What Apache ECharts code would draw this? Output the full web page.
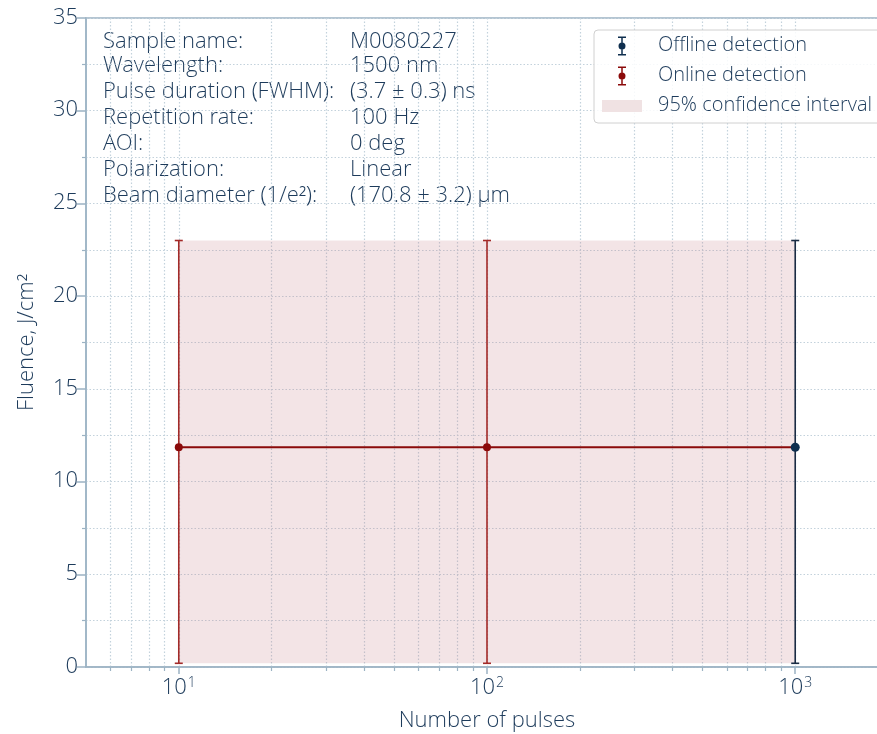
<!DOCTYPE html>
<html>
<head>
<meta charset="utf-8">
<script src="https://cdn.jsdelivr.net/npm/echarts@6/dist/echarts.min.js"></script>
<style>
html,body{margin:0;padding:0;background:#fff;}
#chart{width:877px;height:734px;}
</style>
</head>
<body>
<div id="chart"></div>
<script>
// ---- data ----
const onlinePulses = [10, 100, 1000];
const onlineFluence = [11.85, 11.85, 11.85];
const onlineLow = [0.2, 0.2];
const onlineHigh = [23.0, 23.0];
const offlinePulses = [1000];
const offlineFluence = [11.85];
const offlineLow = [0.2];
const offlineHigh = [23.0];
const ciPulses = [10, 1000];
const ciLow = 0.2;
const ciHigh = 23.0;
const xMajorTicks = [10, 100, 1000];
const xMinorTicks = [6, 7, 8, 9, 20, 30, 40, 50, 60, 70, 80, 90, 200, 300, 400, 500, 600, 700, 800, 900];
const infoLabels = ['Sample name:', 'Wavelength:', 'Pulse duration (FWHM):', 'Repetition rate:', 'AOI:', 'Polarization:', 'Beam diameter (1/e\u00B2):'];
const infoValues = ['M0080227', '1500 nm', '(3.7 \u00B1 0.3) ns', '100 Hz', '0 deg', 'Linear', '(170.8 \u00B1 3.2) \u00B5m'];

const FONT = '"Open Sans Light", "Open Sans", sans-serif';
const TXT = '#1d3b5b';
const AX = '#9cb3c4';
const GRIDC = '#c3d2dc';
const RED = '#8b0a0a';
const REDBAR = '#a32a28';
const NAVY = '#0f2f4f';

const chart = echarts.init(document.getElementById('chart'), null, {renderer: 'canvas'});

function errRender(lows, highs, xs, color) {
  return function (params, api) {
    const i = params.dataIndex;
    const top = api.coord([xs[i], highs[i]]);
    const bot = api.coord([xs[i], lows[i]]);
    const cw = 4;
    const st = {stroke: color, lineWidth: 1.6};
    return {
      type: 'group',
      children: [
        {type: 'line', shape: {x1: top[0], y1: top[1], x2: bot[0], y2: bot[1]}, style: st},
        {type: 'line', shape: {x1: top[0] - cw, y1: top[1], x2: top[0] + cw, y2: top[1]}, style: st},
        {type: 'line', shape: {x1: bot[0] - cw, y1: bot[1], x2: bot[0] + cw, y2: bot[1]}, style: st}
      ]
    };
  };
}

const ebIcon = 'path://M0,0M40,20M16,0.5H24V2H16Z M19.25,1H20.75V19H19.25Z M16,18H24V19.5H16Z M20,6.5A3.5,3.5 0 1 1 20,13.5A3.5,3.5 0 1 1 20,6.5Z';
const ciIcon = 'path://M0,0M40,20M0,4H40V16H0Z';

const graphics = [];
const rowY = [42.5, 66.5, 92, 118.5, 144, 170.5, 196.5];
infoLabels.forEach((t, i) => {
  graphics.push({type: 'text', x: 103, y: rowY[i], silent: true,
    style: {text: t, fill: TXT, font: '300 22px ' + FONT, verticalAlign: 'middle'}});
  graphics.push({type: 'text', x: 350, y: rowY[i], silent: true,
    style: {text: infoValues[i], fill: TXT, font: '300 22px ' + FONT, verticalAlign: 'middle'}});
});

const option = {
  animation: false,
  backgroundColor: '#ffffff',
  textStyle: {fontFamily: FONT},
  grid: {left: 86, width: 802, top: 18, height: 649, outerBoundsMode: 'none', containLabel: false,
    show: true, borderColor: AX, borderWidth: 1.5, backgroundColor: 'transparent'},
  legend: {
    left: 594, top: 30, orient: 'vertical',
    itemWidth: 40, itemHeight: 20, itemGap: 10,
    padding: [6, 24, 7, 8],
    borderColor: '#d0d0d0', borderWidth: 1, borderRadius: 4,
    backgroundColor: 'rgba(255,255,255,0.85)',
    textStyle: {color: TXT, fontSize: 20, fontWeight: 300, fontFamily: FONT, lineHeight: 20, padding: [0, 0, 0, 11]},
    data: [
      {name: 'Offline detection', icon: ebIcon, itemStyle: {color: NAVY}},
      {name: 'Online detection', icon: ebIcon, itemStyle: {color: RED}},
      {name: '95% confidence interval', icon: ciIcon, itemStyle: {color: '#f0e2e3'}}
    ]
  },
  xAxis: [
    {
      type: 'log', logBase: 10, min: 5, max: 2000,
      position: 'bottom',
      name: 'Number of pulses', nameLocation: 'middle', nameGap: 43,
      nameTextStyle: {color: TXT, fontSize: 22, fontWeight: 300, fontFamily: FONT},
      axisLine: {show: true, lineStyle: {color: AX, width: 1.5}},
      axisTick: {show: true, inside: false, length: 7, lineStyle: {color: AX, width: 1.5}, customValues: xMajorTicks},
      axisLabel: {
        color: TXT, margin: 9, customValues: xMajorTicks,
        formatter: v => '{b|10}{s|' + Math.round(Math.log10(v)) + '}',
        rich: {b: {fontSize: 22, fontWeight: 300, color: TXT, fontFamily: FONT}, s: {fontSize: 14, fontWeight: 300, color: TXT, fontFamily: FONT, verticalAlign: 'top', padding: [0, 0, 10, 1]}}
      },
      splitLine: {show: true, lineStyle: {color: GRIDC, width: 1.2, type: [1.5, 2]}}
    },
    {
      type: 'log', logBase: 10, min: 5, max: 2000,
      position: 'bottom',
      axisLine: {show: false},
      axisTick: {show: true, inside: false, length: 4, lineStyle: {color: AX, width: 1.2}, customValues: xMinorTicks},
      axisLabel: {show: false, customValues: xMinorTicks},
      splitLine: {show: true, lineStyle: {color: GRIDC, width: 1.2, type: [1.5, 2]}}
    }
  ],
  yAxis: {
    type: 'value', min: 0, max: 35, interval: 5,
    name: 'Fluence, J/cm\u00B2', nameLocation: 'middle', nameGap: 48,
    nameTextStyle: {color: TXT, fontSize: 22, fontWeight: 300, fontFamily: FONT},
    axisLine: {show: true, lineStyle: {color: AX, width: 1.5}},
    axisTick: {show: true, inside: false, length: 9, lineStyle: {color: AX, width: 1.5}},
    minorTick: {show: true, splitNumber: 2, length: 4, lineStyle: {color: AX, width: 1.2}},
    axisLabel: {color: TXT, fontSize: 22, fontWeight: 300, fontFamily: FONT, margin: 8},
    splitLine: {show: true, lineStyle: {color: GRIDC, width: 1.2, type: [1.5, 2]}},
    minorSplitLine: {show: true, lineStyle: {color: GRIDC, width: 1.2, type: [1.5, 2]}}
  },
  series: [
    {
      name: '95% confidence interval', type: 'custom', xAxisIndex: 0, z: 1,
      itemStyle: {color: '#f0e2e3'},
      data: [[ciPulses[0], ciLow, ciPulses[1], ciHigh]],
      renderItem: function (params, api) {
        const p0 = api.coord([ciPulses[0], ciHigh]);
        const p1 = api.coord([ciPulses[1], ciLow]);
        return {type: 'rect', shape: {x: p0[0], y: p0[1], width: p1[0] - p0[0], height: p1[1] - p0[1]},
          style: {fill: 'rgba(196,120,128,0.2)'}};
      },
      silent: true
    },
    {
      name: 'Online detection', type: 'line', xAxisIndex: 0, z: 3,
      data: onlinePulses.map((x, i) => [x, onlineFluence[i]]),
      symbol: 'none',
      lineStyle: {color: RED, width: 2},
      itemStyle: {color: RED}
    },
    {
      name: 'Online detection', type: 'custom', xAxisIndex: 0, z: 4,
      itemStyle: {color: RED},
      data: onlineLow.map((l, i) => [onlinePulses[i], l, onlineHigh[i]]),
      renderItem: errRender(onlineLow, onlineHigh, onlinePulses, REDBAR)
    },
    {
      name: 'Online detection', type: 'scatter', xAxisIndex: 0, z: 5,
      data: onlineLow.map((l, i) => [onlinePulses[i], onlineFluence[i]]),
      symbol: 'circle', symbolSize: 8,
      itemStyle: {color: RED, opacity: 1}
    },
    {
      name: 'Offline detection', type: 'custom', xAxisIndex: 0, z: 6,
      itemStyle: {color: NAVY},
      data: offlineLow.map((l, i) => [offlinePulses[i], l, offlineHigh[i]]),
      renderItem: errRender(offlineLow, offlineHigh, offlinePulses, '#1a2c44')
    },
    {
      name: 'Offline detection', type: 'scatter', xAxisIndex: 0, z: 7,
      data: offlinePulses.map((x, i) => [x, offlineFluence[i]]),
      symbol: 'circle', symbolSize: 9,
      itemStyle: {color: NAVY, opacity: 1}
    }
  ],
  graphic: graphics
};
chart.setOption(option);
</script>
</body>
</html>
